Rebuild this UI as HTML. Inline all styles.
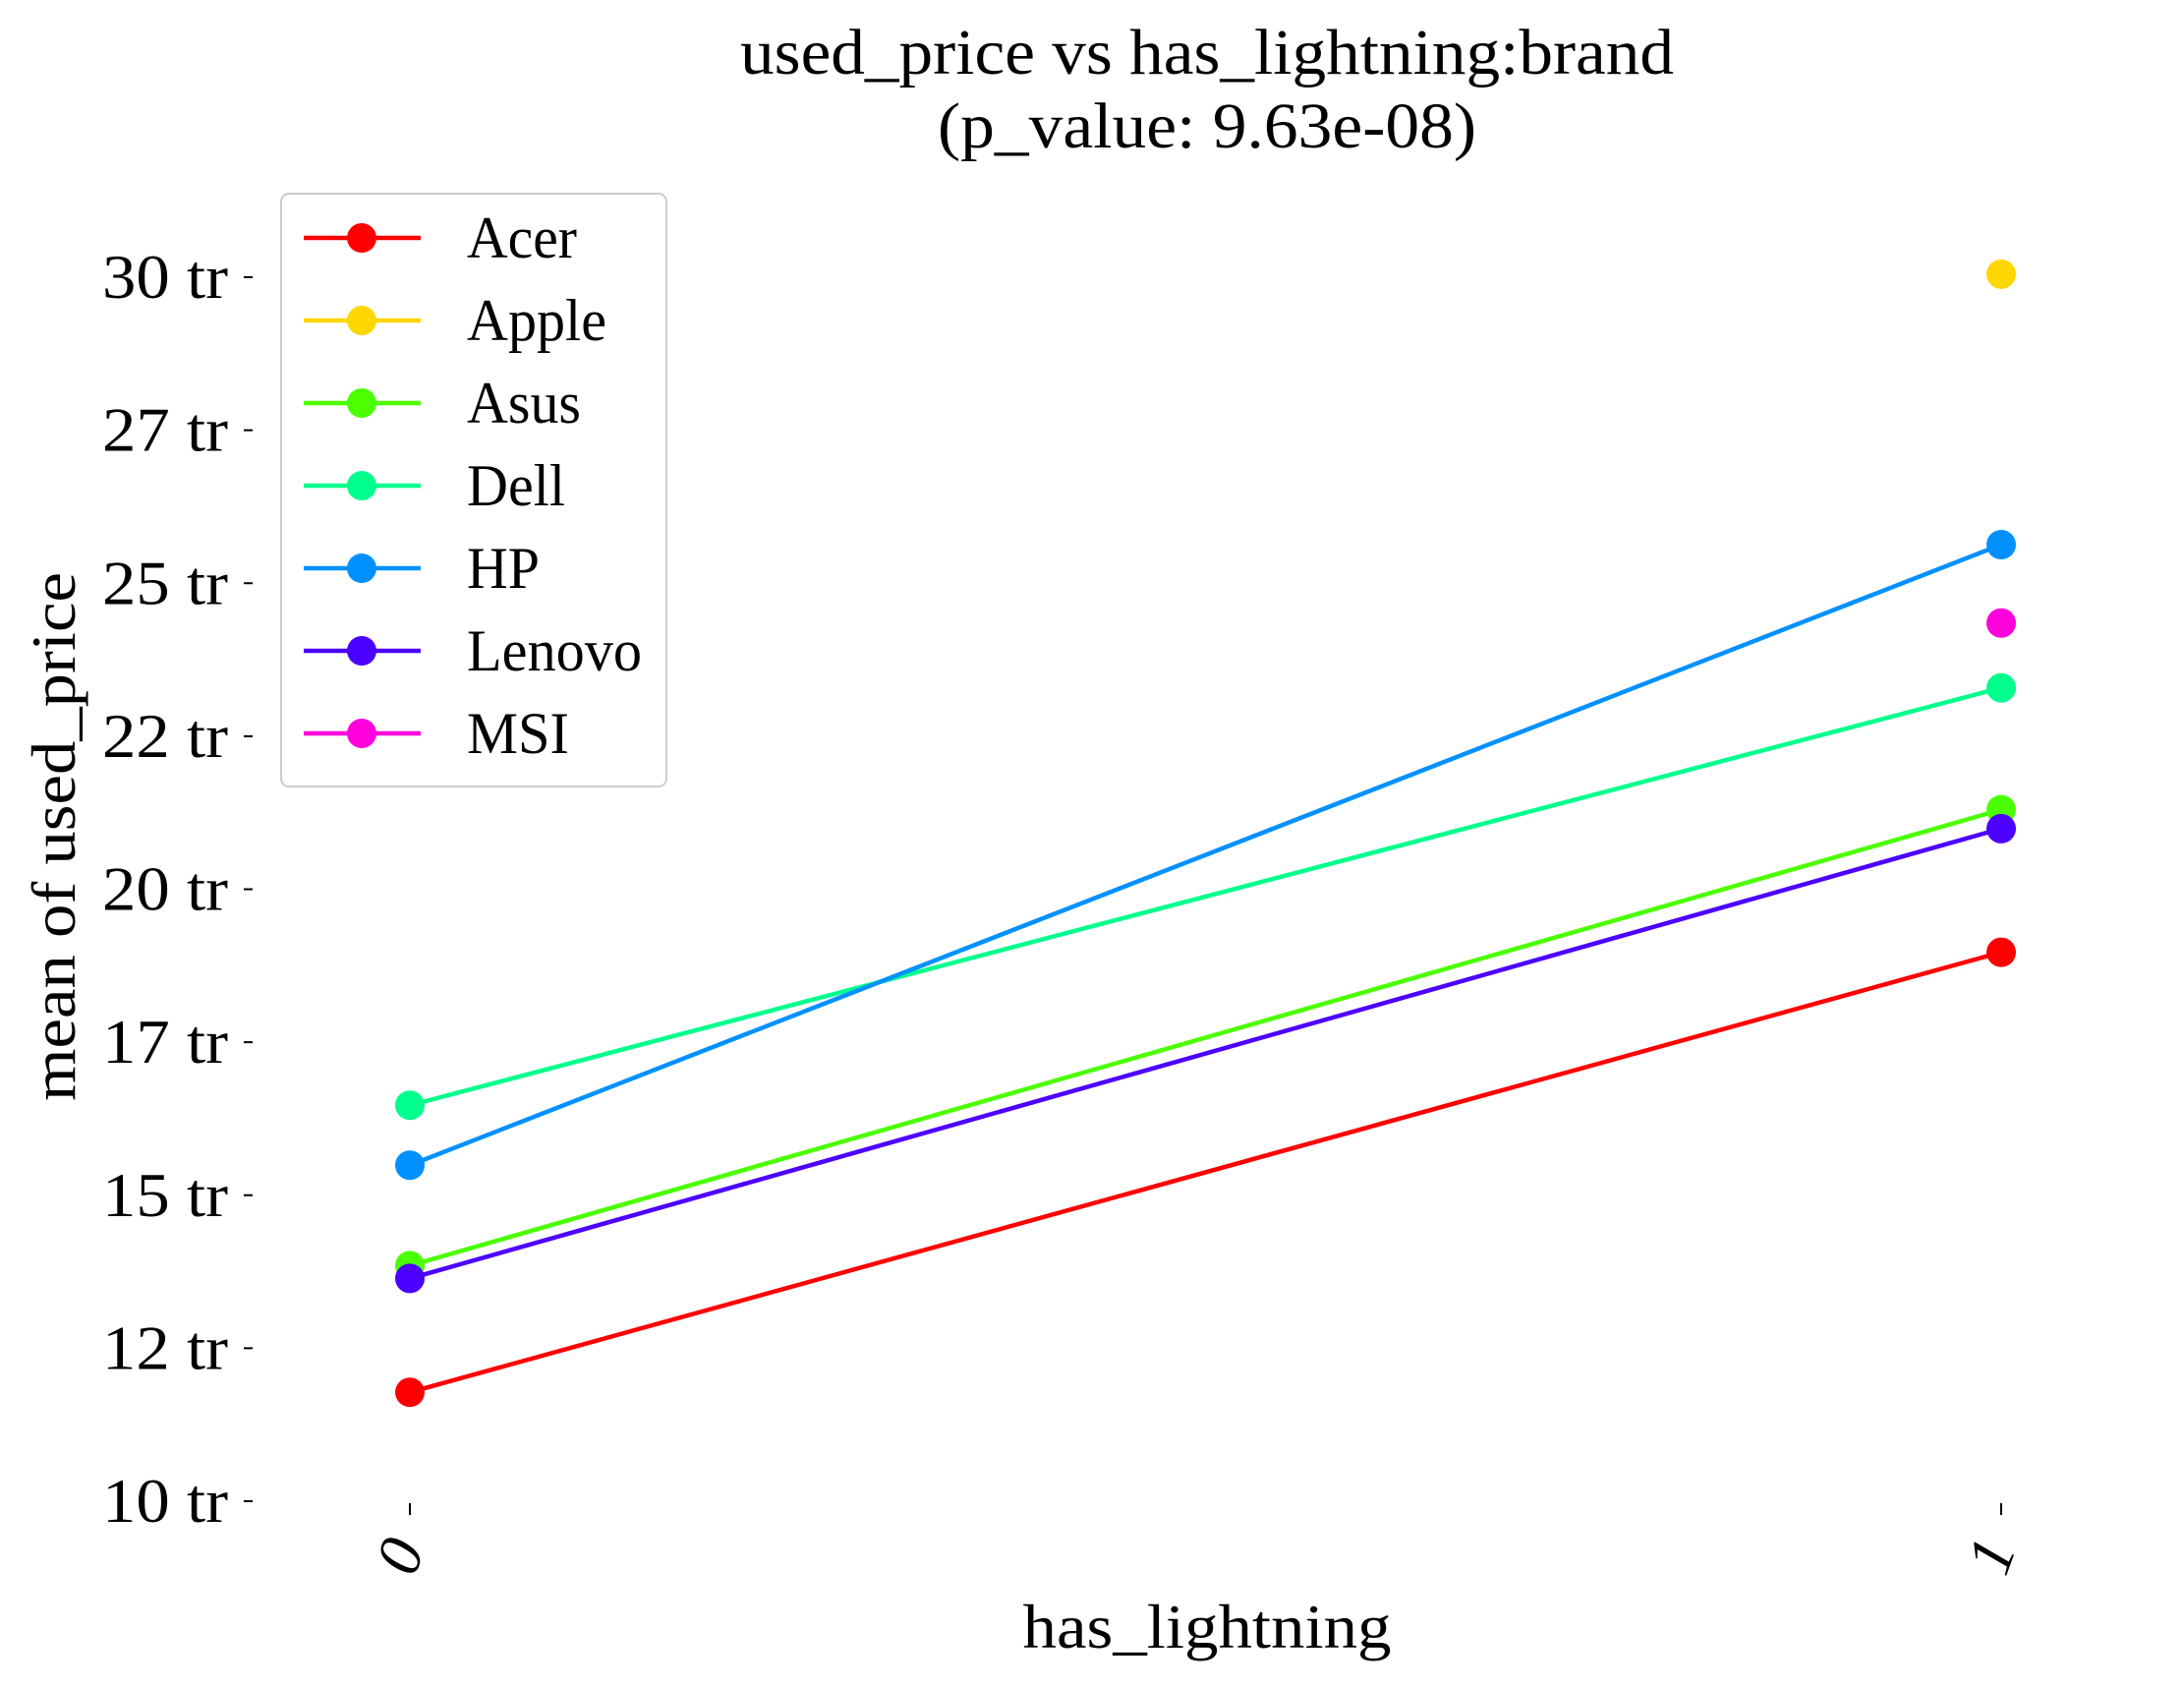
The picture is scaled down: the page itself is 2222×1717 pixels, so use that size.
<!DOCTYPE html>
<html><head><meta charset="utf-8">
<style>html,body{margin:0;padding:0;background:#fff}svg{display:block}
text{font-family:"Liberation Serif",serif;fill:#000}</style></head>
<body>
<svg id="chart" width="2222" height="1717" viewBox="0 0 2222 1717" xmlns="http://www.w3.org/2000/svg">
<text x="1228" y="75" font-size="66" text-anchor="middle" textLength="950" lengthAdjust="spacingAndGlyphs">used_price vs has_lightning:brand</text>
<text x="1228" y="150" font-size="66" text-anchor="middle" textLength="548" lengthAdjust="spacingAndGlyphs">(p_value: 9.63e-08)</text>
<text transform="translate(76,851) rotate(-90)" font-size="64" text-anchor="middle" textLength="538" lengthAdjust="spacingAndGlyphs">mean of used_price</text>
<text x="1228" y="1676" font-size="64" text-anchor="middle" textLength="375" lengthAdjust="spacingAndGlyphs">has_lightning</text>
<g id="yaxis"></g>
<g id="xaxis"></g>
<g id="series"></g>
<g id="legend"></g>
</svg>
<script>
const categories = ["0", "1"];
const brands = ["Acer","Apple","Asus","Dell","HP","Lenovo","MSI"];
const colors = ["#ff0000","#ffd700","#4cff00","#00ff8c","#0091ff","#4c00ff","#ff00dd"];
const acerVals = [11.78, 18.97];
const appleVals = [null, 30.05];
const asusVals = [13.85, 21.3];
const dellVals = [16.47, 23.29];
const hpVals = [15.49, 25.63];
const lenovoVals = [13.64, 20.99];
const msiVals = [null, 24.35];
const yTicks = [10, 12.5, 15, 17.5, 20, 22.5, 25, 27.5, 30];
const yTickLabels = ["10 tr","12 tr","15 tr","17 tr","20 tr","22 tr","25 tr","27 tr","30 tr"];

const NS = "http://www.w3.org/2000/svg";
const yScale = v => 1527 - (v - 10) * (1527 - 282) / 20;
const xScale = i => 417 + i * (2036 - 417);
function mk(tag, attrs, parent){const e=document.createElementNS(NS,tag);for(const k in attrs)e.setAttribute(k,attrs[k]);parent.appendChild(e);return e;}

const ya = document.getElementById('yaxis');
yTicks.forEach((t,i)=>{
  const y=yScale(t);
  const tk=mk('line',{x1:248,x2:257,y1:y,y2:y,stroke:'#000','stroke-width':2},ya);
  
  
  const tx=mk('text',{x:232,y:y+21,'font-size':64,'text-anchor':'end',textLength:128,lengthAdjust:'spacingAndGlyphs'},ya);
  tx.textContent=yTickLabels[i];
  
  
});
const xa = document.getElementById('xaxis');
categories.forEach((c,i)=>{
  const x=xScale(i);
  const tk=mk('line',{x1:x,x2:x,y1:1529,y2:1541,stroke:'#000','stroke-width':2},xa);
  
  
  const tx=mk('text',{transform:`translate(${x-4},${1585}) rotate(-70)`,'font-size':64,'text-anchor':'middle','dominant-baseline':'middle','font-style':'italic'},xa);
  tx.textContent=c;
  
  
});
const allVals=[acerVals,appleVals,asusVals,dellVals,hpVals,lenovoVals,msiVals];
const sg=document.getElementById('series');
brands.forEach((b,bi)=>{
  const vals=allVals[bi];
  const g=mk('g',{},sg);
  
  
  const pts=vals.map((v,i)=>v==null?null:[xScale(i),yScale(v)]);
  if(pts[0]&&pts[1]){
    const ln=mk('line',{x1:pts[0][0],y1:pts[0][1],x2:pts[1][0],y2:pts[1][1],stroke:colors[bi],'stroke-width':4.5},g);
    
    
  }
  pts.forEach(p=>{if(!p)return;
    const c=mk('circle',{cx:p[0],cy:p[1],r:15,fill:colors[bi]},g);
    
    
  });
});
const lg=document.getElementById('legend');
const box=mk('rect',{x:286,y:197,width:392,height:603,rx:8,fill:'#fff',stroke:'#ccc','stroke-width':2},lg);


const legendWidths=[112,142,116,100,74,178,104];
brands.forEach((b,i)=>{
  const y=242+i*84;
  const g=mk('g',{},lg);
  
  
  mk('line',{x1:309,x2:428,y1:y,y2:y,stroke:colors[i],'stroke-width':4.5},g);
  mk('circle',{cx:368,cy:y,r:15,fill:colors[i]},g);
  const t=mk('text',{x:475,y:y+20,'font-size':60,textLength:legendWidths[i],lengthAdjust:'spacingAndGlyphs'},g);
  t.textContent=b;
});
</script>
</body></html>
